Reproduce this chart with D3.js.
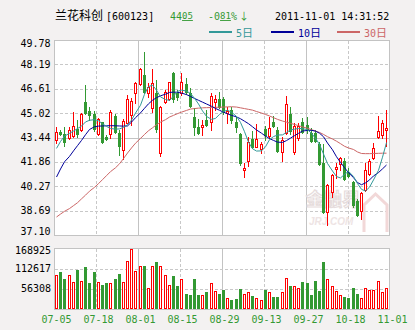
<!DOCTYPE html>
<html>
<head>
<meta charset="utf-8">
<script src="https://cdn.jsdelivr.net/npm/d3@7/dist/d3.min.js"></script>
<style>
html, body { margin: 0; padding: 0; background: #f3f1f1; }
svg { display: block; }
</style>
</head>
<body>
<svg id="chart" width="415" height="330"></svg>
<script>
// Trading days shown on the chart (2011)
const dates = [
  "07-05","07-06","07-07","07-08","07-11","07-12","07-13","07-14","07-15","07-18",
  "07-19","07-20","07-21","07-22","07-25","07-26","07-27","07-28","07-29","08-01",
  "08-02","08-03","08-04","08-05","08-08","08-09","08-10","08-11","08-12","08-15",
  "08-16","08-17","08-18","08-19","08-22","08-23","08-24","08-25","08-26","08-29",
  "08-30","08-31","09-01","09-02","09-05","09-06","09-07","09-08","09-09","09-13",
  "09-14","09-15","09-16","09-19","09-20","09-21","09-22","09-23","09-26","09-27",
  "09-28","09-29","09-30","10-10","10-11","10-12","10-13","10-14","10-17","10-18",
  "10-19","10-20","10-21","10-24","10-25","10-26","10-27","10-28","10-31","11-01"
];

const open = [
  43.28,43.80,43.65,43.39,43.56,43.97,43.93,45.77,45.19,44.97,
  43.67,44.43,43.49,43.67,44.84,43.71,42.63,44.41,44.90,46.36,
  46.90,47.50,46.36,45.38,46.36,42.45,45.77,45.92,47.66,46.31,
  46.31,46.92,46.31,44.75,44.10,44.15,44.58,44.47,45.77,45.92,
  45.92,45.06,45.23,44.47,43.67,41.33,41.91,43.32,42.85,42.67,
  43.97,43.54,44.47,43.93,42.52,43.71,44.97,42.52,43.39,44.47,
  44.25,43.71,43.76,43.02,41.80,38.62,39.92,41.37,41.72,41.93,
  41.22,40.57,39.31,38.68,40.03,41.07,42.09,43.45,43.60,43.90
];
const high = [
  44.10,43.93,44.10,44.10,45.12,44.58,45.01,46.85,45.45,45.19,
  44.69,44.47,43.60,45.23,44.97,43.93,44.64,46.20,45.99,47.07,
  47.94,49.02,47.01,47.87,47.18,45.49,46.53,47.07,47.72,46.53,
  47.61,47.29,46.64,45.34,44.62,44.58,45.23,46.36,46.20,46.42,
  46.09,45.45,45.45,44.75,43.71,41.76,43.45,43.89,44.32,43.17,
  44.19,44.75,44.84,44.10,43.49,46.14,45.45,44.36,44.36,44.69,
  44.80,44.04,43.93,43.17,43.02,40.42,41.07,41.76,42.15,42.09,
  41.44,40.63,39.42,39.92,41.76,42.02,43.11,44.84,44.58,45.23
];
const low = [
  43.06,43.58,42.89,43.32,43.49,43.49,43.89,44.97,44.58,43.89,
  43.60,43.11,43.28,43.39,43.71,42.30,42.02,44.36,44.25,45.71,
  46.85,46.31,46.10,45.12,43.82,42.24,45.71,45.88,45.77,45.88,
  46.20,46.27,45.45,43.60,43.67,43.60,44.19,43.93,45.23,45.34,
  44.97,44.36,44.41,43.82,41.65,40.85,41.59,42.74,42.80,42.45,
  43.28,43.39,44.10,42.52,41.93,43.67,43.67,42.37,43.28,43.71,
  43.71,43.17,43.17,41.65,38.51,37.75,39.59,40.79,41.33,40.68,
  40.89,38.94,38.34,38.12,39.98,41.00,42.02,43.39,43.39,42.89
];
const close = [
  43.82,43.69,43.17,43.93,44.19,43.67,44.97,45.06,44.90,43.97,
  44.62,43.17,43.34,45.08,43.82,42.89,44.51,45.92,45.81,46.96,
  47.89,46.42,46.70,46.96,43.97,45.40,46.42,47.03,45.92,46.05,
  47.03,46.42,45.51,44.10,43.76,44.25,44.25,46.14,45.92,45.40,
  45.12,45.19,44.58,44.10,41.76,41.48,43.17,42.85,43.32,43.00,
  43.60,44.08,44.19,42.58,43.28,45.62,43.89,44.19,44.19,43.82,
  43.93,43.23,43.21,41.72,38.62,40.35,41.00,41.50,42.09,40.72,
  40.94,39.05,38.40,39.85,41.33,41.93,42.74,43.89,44.41,44.05
];
const volume = [
  94700,103000,83500,94700,75200,108600,78000,117000,72400,103000,
  74300,66800,72400,72400,83500,97500,75200,133700,168925,105800,
  119700,119700,58500,119700,130900,119700,94700,66800,91900,64000,
  83500,41800,39000,83500,39000,39000,47300,72400,50100,41800,
  52900,30600,25100,27800,55700,41800,47300,36200,30600,25100,
  52900,47300,33400,33400,47300,86300,64000,64000,58500,75200,
  72400,39000,78000,50100,130900,83500,64000,50100,39000,33400,
  30600,58500,41800,30600,58500,52900,52900,78000,47300,58500
];

// Moving averages (5, 10 and 30 day)
const ma5 = [
  42.73,43.18,43.53,43.71,43.86,44.02,44.18,44.45,44.56,44.60,
  44.53,44.33,44.16,44.03,43.98,44.00,44.10,44.27,44.57,45.03,
  45.54,46.25,46.75,46.84,46.52,46.08,45.91,45.85,46.13,46.44,
  46.52,46.46,46.30,45.99,45.62,45.17,44.81,44.62,44.68,44.94,
  45.14,45.21,45.09,44.81,44.42,43.82,43.14,42.71,42.56,42.57,
  42.84,43.30,43.50,43.60,43.61,43.77,43.93,43.98,44.03,44.01,
  43.95,43.71,43.39,42.99,42.37,41.75,41.26,40.90,40.81,41.04,
  41.24,40.91,40.44,40.07,39.96,40.21,40.68,41.31,42.16,43.11
];
const ma10 = [
  40.87,41.39,41.86,42.21,42.57,42.91,43.25,43.62,43.96,44.14,
  44.18,44.19,44.20,44.21,44.20,44.19,44.18,44.19,44.44,44.73,
  45.04,45.34,45.63,45.86,46.03,46.15,46.26,46.37,46.39,46.38,
  46.33,46.23,46.11,45.98,45.86,45.74,45.62,45.47,45.33,45.21,
  45.09,44.98,44.88,44.78,44.66,44.50,44.34,44.14,43.93,43.72,
  43.53,43.37,43.25,43.14,43.12,43.24,43.40,43.56,43.71,43.86,
  43.90,43.91,43.85,43.72,43.49,43.08,42.64,42.19,41.82,41.48,
  41.15,40.83,40.51,40.37,40.49,40.68,40.94,41.16,41.40,41.65
];
const ma30 = [
  38.27,38.46,38.64,38.82,39.01,39.20,39.45,39.69,39.95,40.20,
  40.44,40.70,40.96,41.22,41.47,41.73,42.07,42.43,42.76,43.07,
  43.38,43.64,43.88,44.07,44.27,44.44,44.60,44.77,44.88,44.99,
  45.09,45.20,45.29,45.32,45.35,45.37,45.38,45.39,45.40,45.41,
  45.42,45.43,45.44,45.42,45.37,45.32,45.27,45.22,45.13,45.03,
  44.94,44.84,44.73,44.62,44.51,44.44,44.36,44.29,44.21,44.13,
  44.04,43.95,43.86,43.77,43.64,43.49,43.34,43.20,43.04,42.87,
  42.76,42.66,42.50,42.40,42.39,42.39,42.40,42.41,42.42,42.42
];

const priceTicks = [49.78, 48.19, 46.61, 45.02, 43.44, 41.86, 40.27, 38.69, 37.10];
const volumeTicks = [168925, 112617, 56308];
const dateTicks = ["07-05","07-18","08-01","08-15","08-29","09-13","09-27","10-18","11-01"];

const UP = "#ff0000", DOWN = "#339933", BORDER = "#c3c3c3", GRID = "#c8c8c8";
const MONO = "'DejaVu Sans Mono', monospace";
const CJK = "'Noto Sans CJK SC', sans-serif";

const svg = d3.select("#chart");
const L = 54.5, R = 389.5, T = 40.5, B = 235.5, VT = 248.5, VB = 309.5;

const x = d3.scaleBand().domain(dates).range([54.5, 388.5]);
const y = d3.scaleLinear().domain([37.10, 49.78]).range([235, 40]);
const yv = d3.scaleLinear().domain([0, 168925]).range([309, 248.5]);
const gx = d3.scaleLinear().domain([0, 8]).range([54, 390]);
const cx = d => Math.floor(x(d) + x.bandwidth() / 2);

// Panels
svg.append("rect").attr("x", L).attr("y", T).attr("width", R - L).attr("height", B - T).attr("fill", "#fff");
svg.append("rect").attr("x", L).attr("y", VT).attr("width", R - L).attr("height", VB - VT).attr("fill", "#fff");

// Grid
const grid = svg.append("g").attr("shape-rendering", "crispEdges").attr("stroke-width", 1);
d3.range(1, 8).forEach(i => {
  const gxi = Math.round(gx(i)) + 0.5;
  const solid = i % 2 === 0;
  [[T, B], [VT, VB]].forEach(([a, b]) => {
    grid.append("line").attr("x1", gxi).attr("x2", gxi).attr("y1", a).attr("y2", b)
      .attr("stroke", solid ? BORDER : GRID).attr("stroke-dasharray", solid ? null : "3,2");
  });
});
priceTicks.slice(1, -1).forEach((v, i) => {
  const yy = Math.round(y(v)) + 0.5;
  const solid = i === 3;
  grid.append("line").attr("x1", L).attr("x2", R).attr("y1", yy).attr("y2", yy)
    .attr("stroke", solid ? BORDER : GRID).attr("stroke-dasharray", solid ? null : "3,2");
});
volumeTicks.slice(1).forEach(v => {
  const yy = Math.round(yv(v)) + 0.5;
  grid.append("line").attr("x1", L).attr("x2", R).attr("y1", yy).attr("y2", yy)
    .attr("stroke", GRID).attr("stroke-dasharray", "3,2");
});

// Watermark
const wm = svg.append("g");
wm.append("text").attr("x", 306).attr("y", 206).attr("font-family", CJK).attr("font-size", 18)
  .attr("font-weight", "bold").attr("fill", "none").attr("stroke", "#e6dcdc").attr("stroke-width", 1.2).text("金融界");
wm.append("text").attr("x", 309).attr("y", 225).attr("font-family", "Arial, 'Liberation Sans', sans-serif")
  .attr("font-size", 10).attr("font-weight", "bold").attr("font-style", "italic").attr("fill", "#eee4e4").text("JRJ.COM");
wm.append("path").attr("d", "M364,232V205L375.5,194L387,205V232").attr("fill", "none")
  .attr("stroke", "#f2d8d8").attr("stroke-width", 3);

// Candles and volume bars
const idx = d3.range(dates.length);
const candles = svg.append("g").attr("shape-rendering", "crispEdges");
idx.forEach(i => {
  const c = cx(dates[i]);
  const up = close[i] >= open[i];
  const col = up ? UP : DOWN;
  candles.append("line").attr("x1", c + 0.5).attr("x2", c + 0.5)
    .attr("y1", Math.round(y(high[i]))).attr("y2", Math.round(y(low[i])) + 1).attr("stroke", col);
  const top = Math.round(y(Math.max(open[i], close[i])));
  const bot = Math.round(y(Math.min(open[i], close[i])));
  if (up) {
    candles.append("rect").attr("x", c - 0.5).attr("y", top + 0.5).attr("width", 2)
      .attr("height", Math.max(1, bot - top)).attr("fill", "#fff").attr("stroke", UP);
  } else {
    candles.append("rect").attr("x", c - 1).attr("y", top).attr("width", 3)
      .attr("height", Math.max(1, bot - top + 1)).attr("fill", DOWN);
  }
  const vt = Math.round(yv(volume[i]));
  if (up) {
    candles.append("rect").attr("x", c - 0.5).attr("y", vt + 0.5).attr("width", 2)
      .attr("height", 309 - vt - 1).attr("fill", "#fff").attr("stroke", UP);
  } else {
    candles.append("rect").attr("x", c - 1).attr("y", vt).attr("width", 3)
      .attr("height", 309 - vt).attr("fill", DOWN);
  }
});

// Moving average lines
const lines = [[ma30, "#cc6666"], [ma10, "#000099"], [ma5, "#339999"]];
lines.forEach(([arr, col]) => {
  const ln = d3.line().x((v, i) => cx(dates[i]) + 0.5).y(v => y(v));
  svg.append("path").attr("d", ln(arr)).attr("fill", "none").attr("stroke", col).attr("stroke-width", 1);
});

// Frames
const fr = svg.append("g").attr("fill", "none").attr("stroke", BORDER).attr("shape-rendering", "crispEdges");
fr.append("rect").attr("x", L).attr("y", T).attr("width", R - L).attr("height", B - T);
fr.append("rect").attr("x", L).attr("y", VT).attr("width", R - L).attr("height", VB - VT);

// Axis labels
const clampBase = (yy, a, b) => Math.min(Math.max(yy, a + 3.7), b - 3.7) + 3.6;
priceTicks.forEach(v => {
  svg.append("text").attr("x", 50.5).attr("y", clampBase(y(v), 40, 235))
    .attr("text-anchor", "end").attr("font-family", MONO).attr("font-size", 10).attr("fill", "#000").text(v.toFixed(2));
});
volumeTicks.forEach(v => {
  svg.append("text").attr("x", 51).attr("y", clampBase(yv(v), 246.5, 309))
    .attr("text-anchor", "end").attr("font-family", MONO).attr("font-size", 10).attr("fill", "#000").text(v);
});
dateTicks.forEach((t, i) => {
  svg.append("text").attr("x", gx(i) + 2.5).attr("y", 323).attr("text-anchor", "middle")
    .attr("font-family", MONO).attr("font-size", 10).attr("fill", DOWN).text(t);
});

// Header: name, last price, change, timestamp
svg.append("text").attr("x", 55).attr("y", 20).attr("font-family", CJK).attr("font-size", 12).attr("fill", "#000").text("兰花科创");
svg.append("text").attr("x", 106).attr("y", 20).attr("font-family", MONO).attr("font-size", 10).attr("fill", "#000").text("[600123]");
const price = svg.append("text").attr("x", 170).attr("y", 20).attr("font-family", MONO).attr("font-size", 10).attr("fill", DOWN);
price.append("tspan").text("44");
price.append("tspan").attr("font-size", 9).attr("dy", -1).style("text-decoration", "underline").text("05");
const chg = svg.append("text").attr("x", 208).attr("y", 20).attr("font-family", MONO).attr("font-size", 10).attr("fill", DOWN);
chg.append("tspan").text("-0");
chg.append("tspan").attr("font-size", 9).attr("dy", -1).style("text-decoration", "underline").text("81");
chg.append("tspan").attr("dy", 1).text("%");
chg.append("tspan").attr("font-family", CJK).attr("dx", 2).text("↓");
svg.append("text").attr("x", 275).attr("y", 20).attr("font-family", MONO).attr("font-size", 10).attr("fill", "#000").text("2011-11-01 14:31:52");

// Legend
const legend = [["5", "#339999", 209], ["10", "#000099", 271], ["30", "#cc6666", 337]];
legend.forEach(([n, col, lx]) => {
  svg.append("line").attr("x1", lx).attr("x2", lx + 23).attr("y1", 32).attr("y2", 32)
    .attr("stroke", col).attr("stroke-width", 2).attr("shape-rendering", "crispEdges");
  const t = svg.append("text").attr("x", lx + 27).attr("y", 37).attr("fill", col);
  t.append("tspan").attr("font-family", MONO).attr("font-size", 10).text(n);
  t.append("tspan").attr("font-family", CJK).attr("font-size", 11).text("日");
});
</script>
</body>
</html>
